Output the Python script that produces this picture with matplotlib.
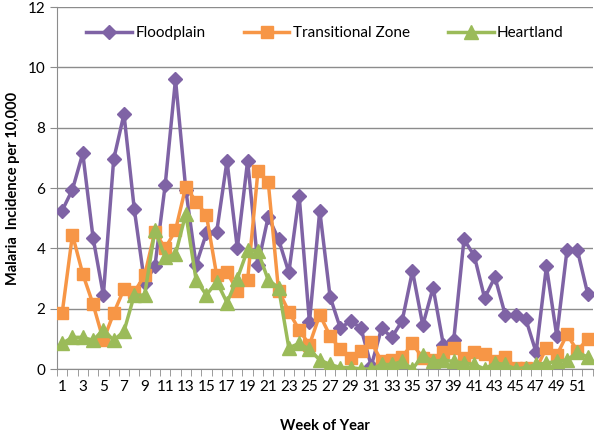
import numpy as np
import matplotlib
matplotlib.use("Agg")
import matplotlib.pyplot as plt
from matplotlib.ticker import FixedLocator

weeks = list(range(1, 53))

floodplain = [5.25, 5.95, 7.15, 4.35, 2.45, 6.95, 8.45, 5.3, 2.85, 3.4,
              6.1, 9.6, 5.95, 3.45, 4.5, 4.55, 6.9, 4.0, 6.9, 3.45,
              5.05, 4.3, 3.2, 5.75, 1.55, 5.25, 2.4, 1.35, 1.6, 1.35,
              0.1, 1.35, 1.05, 1.6, 3.25, 1.45, 2.7, 0.8, 0.95, 4.3,
              3.75, 2.35, 3.05, 1.8, 1.8, 1.65, 0.55, 3.4, 1.1, 3.95,
              3.95, 2.5]

transitional = [1.85, 4.45, 3.15, 2.15, 0.95, 1.85, 2.65, 2.55, 3.1, 4.55,
                4.0, 4.6, 6.05, 5.55, 5.1, 3.1, 3.2, 2.6, 2.95, 6.55,
                6.2, 2.6, 1.9, 1.3, 0.8, 1.8, 1.1, 0.65, 0.35, 0.6,
                0.9, 0.25, 0.3, 0.4, 0.85, 0.35, 0.3, 0.55, 0.7, 0.35,
                0.55, 0.5, 0.25, 0.4, 0.05, 0.05, 0.0, 0.7, 0.45, 1.15,
                0.6, 1.0]

heartland = [0.85, 1.05, 1.05, 0.95, 1.3, 0.95, 1.25, 2.45, 2.45, 4.6,
             3.7, 3.8, 5.15, 2.95, 2.45, 2.9, 2.2, 3.0, 3.95, 3.9,
             2.95, 2.7, 0.7, 0.85, 0.65, 0.3, 0.15, 0.05, 0.05, 0.0,
             0.0, 0.15, 0.15, 0.25, 0.0, 0.45, 0.25, 0.3, 0.25, 0.2,
             0.15, 0.0, 0.2, 0.15, 0.0, 0.05, 0.15, 0.2, 0.25, 0.3,
             0.55, 0.4]

c_flood = "#7f63a5"
c_trans = "#f79646"
c_heart = "#9bbb59"

plt.rcParams['font.family'] = ['Lato', 'DejaVu Sans']

fig = plt.figure(figsize=(6, 4.38), dpi=100)
ax = fig.add_axes([0.095, 0.1575, 0.893, 0.8265])

ax.plot(weeks, floodplain, color=c_flood, lw=2.5, marker='D', ms=7.5,
        label='Floodplain', zorder=3)
ax.plot(weeks, transitional, color=c_trans, lw=2.5, marker='s', ms=9,
        label='Transitional Zone', zorder=4)
ax.plot(weeks, heartland, color=c_heart, lw=2.5, marker='^', ms=10,
        label='Heartland', zorder=5)

ax.set_xlim(0.5, 52.5)
ax.set_ylim(0, 12)
ax.set_yticks(np.arange(0, 13, 2))
ax.yaxis.grid(True, color='#8c8c8c', lw=1)
ax.set_axisbelow(True)

ax.xaxis.set_major_locator(FixedLocator(weeks[::2]))
ax.xaxis.set_minor_locator(FixedLocator(np.arange(0.5, 53, 1)))
ax.tick_params(axis='x', which='major', length=0, pad=8, labelsize=11)
ax.tick_params(axis='x', which='minor', length=5, color='#8c8c8c')
ax.tick_params(axis='y', length=5, color='#8c8c8c', labelsize=11)

for s in ['top', 'right']:
    ax.spines[s].set_visible(False)
for s in ['left', 'bottom']:
    ax.spines[s].set_color('#8c8c8c')

ax.set_xlabel('Week of Year', fontweight='bold', fontsize=10.5, labelpad=18)
ax.set_ylabel('Malaria  Incidence per 10,000', fontweight='bold', fontsize=10.5, labelpad=5)

ax.legend(loc='upper center', bbox_to_anchor=(0.5, 0.985), ncol=3, frameon=False,
          fontsize=11, handlelength=3, columnspacing=2.5, handletextpad=0.2)

fig.savefig('out.png', dpi=100)
